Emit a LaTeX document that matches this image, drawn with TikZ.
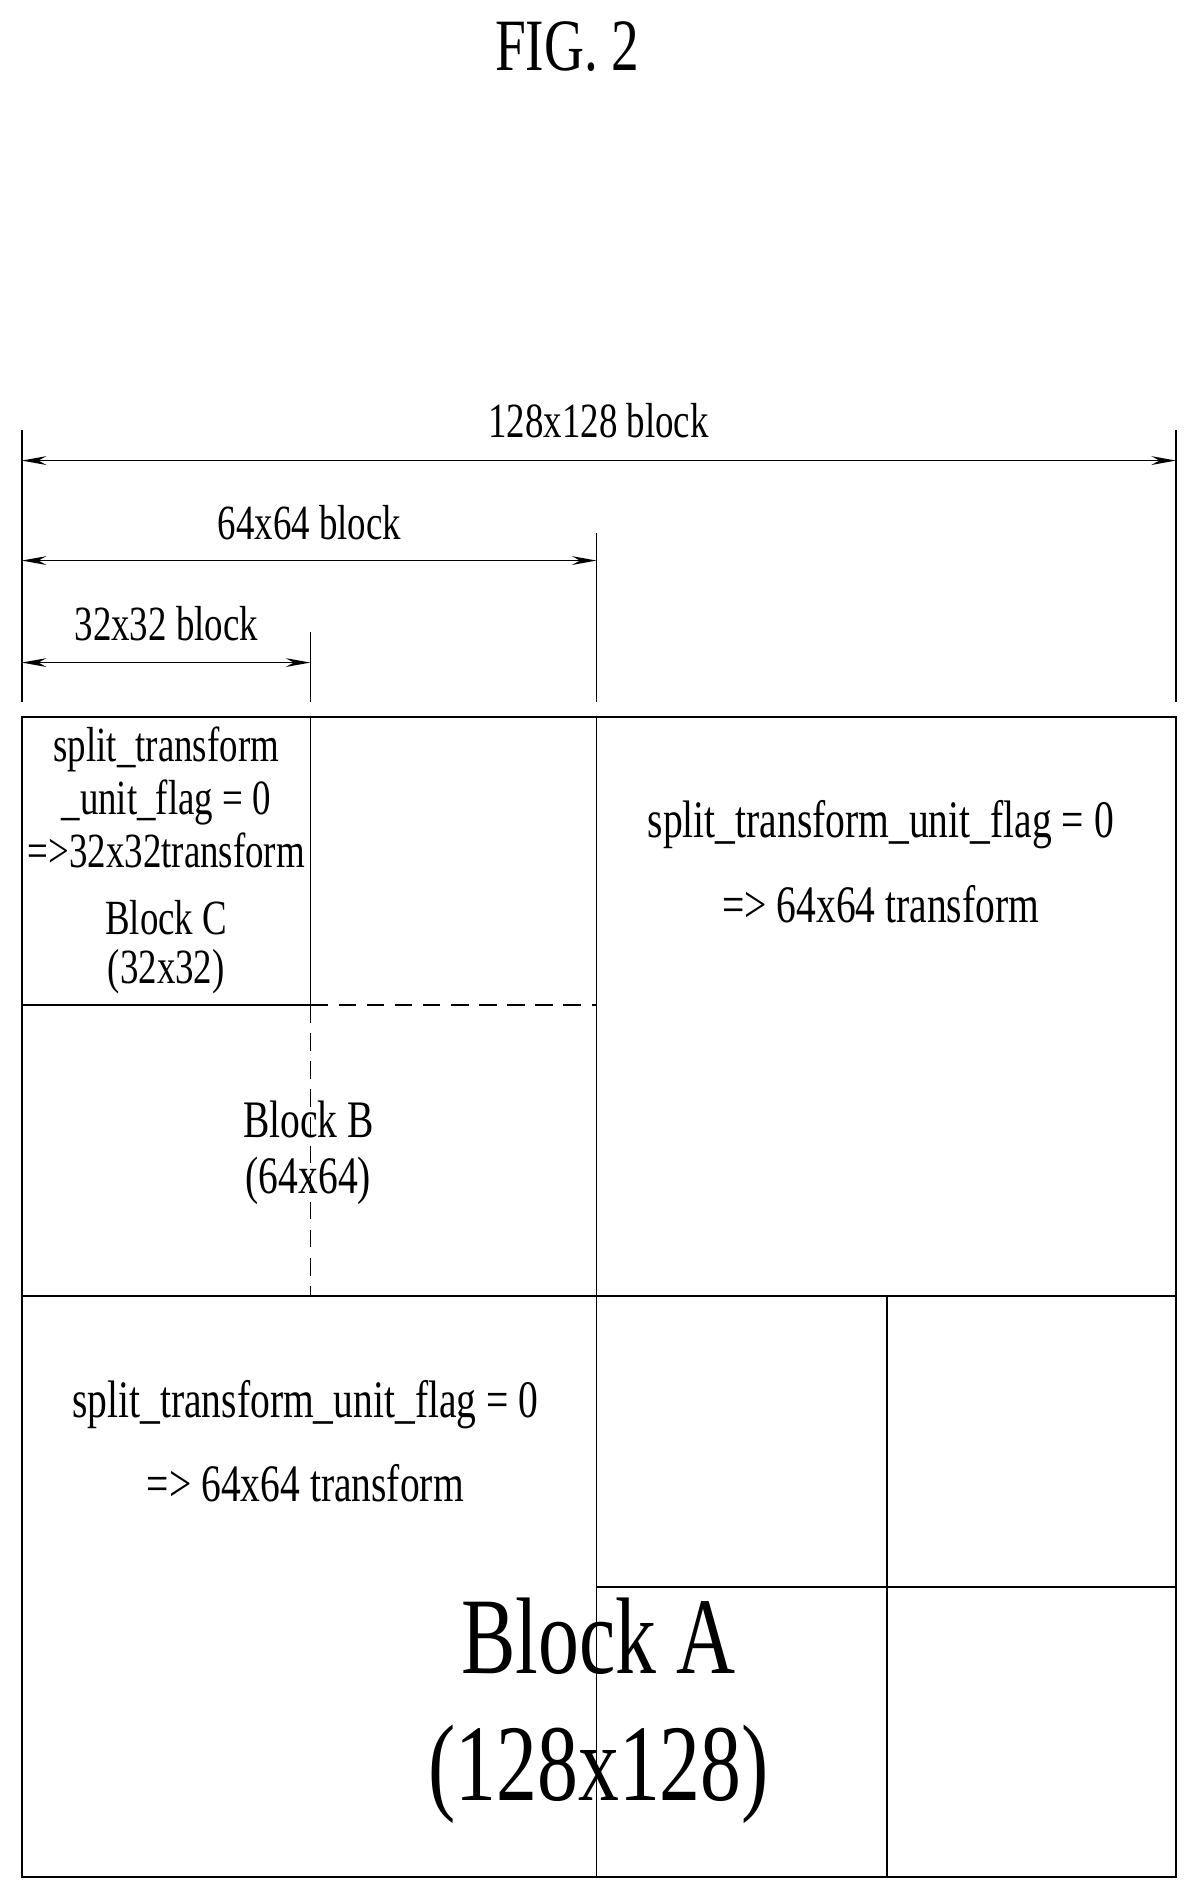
\documentclass[tikz,border=0pt]{standalone}
\usepackage{fontspec}
\setmainfont{Liberation Serif}[FakeStretch=0.75]
\usetikzlibrary{arrows.meta}
\tikzset{
  x=0.02016cm, y=-0.0202cm,
  box/.style={line width=1pt},
  dim/.style={line width=1pt, {Stealth[length=14pt,width=5pt]}-{Stealth[length=14pt,width=5pt]}},
  ext/.style={line width=1pt},
  lbl/.style={font=\fontsize{30}{34}\selectfont, align=center},
  dimlbl/.style={font=\fontsize{28}{32}\selectfont},
}
\begin{document}
\begin{tikzpicture}
\useasboundingbox (0,0) rectangle (1189.3,1877.2);

% title
\node[font=\fontsize{42}{48}\selectfont] (title) at (563,46) {FIG. 2};

% corners
\coordinate (tl) at (21.6,710);
\coordinate (br) at (1167,1858);

% extension lines
\coordinate (e0t) at (21.6,426);   \coordinate (e0b) at (21.6,695);
\coordinate (e1t) at (592,528);    \coordinate (e1b) at (592,695);
\coordinate (e2t) at (308,626);    \coordinate (e2b) at (308,695);
\coordinate (e3t) at (1167,426);   \coordinate (e3b) at (1167,695);
\foreach \e in {0,1,2,3} \draw[ext] (e\e t) -- (e\e b);

% dimensions
\coordinate (d128a) at (21.6,456); \coordinate (d128b) at (1167,456);
\coordinate (d64a) at (21.6,555);  \coordinate (d64b) at (592,555);
\coordinate (d32a) at (21.6,656);  \coordinate (d32b) at (308,656);
\draw[dim] (d128a) -- (d128b);
\draw[dim] (d64a) -- (d64b);
\draw[dim] (d32a) -- (d32b);
\node[dimlbl] (l128) at (594,416) {128x128 block};
\node[dimlbl] (l64) at (307,517) {64x64 block};
\node[dimlbl] (l32) at (165,617) {32x32 block};

% blocks
\draw[box] (tl) rectangle (br);
\draw[box] (592,710) -- (592,1858);
\draw[box] (21.6,1283) -- (1167,1283);
\draw[box] (21.6,995) -- (308,995);
\draw[box] (308,710) -- (308,995);
\draw[box, dashed, dash pattern=on 10pt off 6pt] (308,995) -- (592,995);
\draw[box, dashed, dash pattern=on 10pt off 6pt] (308,995) -- (308,1283);
\draw[box] (880,1283) -- (880,1858);
\draw[box] (592,1571) -- (1167,1571);

% texts
\node[lbl, font=\fontsize{28}{32}\selectfont] (blkc) at (165,852) {split\_transform\\[-2pt]\_unit\_flag = 0\\[-2pt]=>32x32transform\\[6pt]Block C\\[-4pt](32x32)};
\node[lbl] (blkb) at (306,1141) {Block B\\[-2pt](64x64)};
\node[lbl] (urt) at (874,853) {split\_transform\_unit\_flag = 0\\[14pt]=> 64x64 transform};
\node[lbl] (llt) at (303,1427) {split\_transform\_unit\_flag = 0\\[14pt]=> 64x64 transform};
\node[font=\fontsize{62}{68}\selectfont, align=center] (blka) at (594,1694) {Block A\\[4pt](128x128)};
\end{tikzpicture}
\end{document}
